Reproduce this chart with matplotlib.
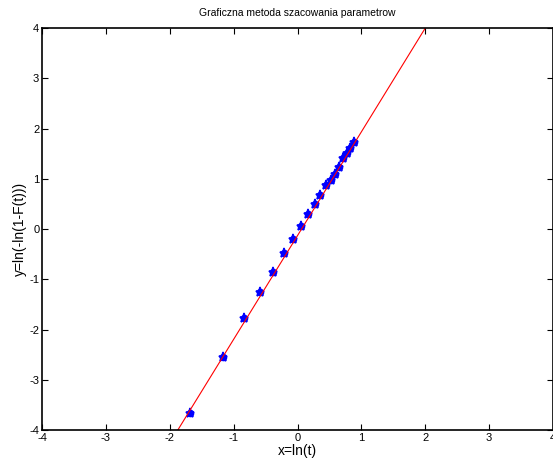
import numpy as np
import matplotlib
matplotlib.use("Agg")
import matplotlib.pyplot as plt

plt.rcParams["font.family"] = ["Liberation Sans", "DejaVu Sans"]
plt.rcParams["axes.unicode_minus"] = False

# points
x_ln_t = [-1.677, -1.170, -0.832, -0.586, -0.377, -0.210, -0.069, 0.057, 0.166,
          0.270, 0.358, 0.443, 0.521, 0.589, 0.656, 0.719, 0.772, 0.828, 0.886]
y_val = [-3.656, -2.541, -1.771, -1.254, -0.856, -0.481, -0.193, 0.066, 0.292,
         0.491, 0.670, 0.869, 0.975, 1.094, 1.234, 1.419, 1.506, 1.612, 1.737]

# fitted line
slope = 2.065
intercept = -0.128
line_x = [-4, 4]
ticks = [-4, -3, -2, -1, 0, 1, 2, 3, 4]

fig = plt.figure(figsize=(5.53, 4.62), dpi=100)
ax = fig.add_axes([0.076, 0.069, 0.924, 0.870])

ax.plot(x_ln_t, y_val, "o", color="blue", markersize=5.5, markeredgewidth=0)
ax.plot(x_ln_t, y_val, "*", color="blue", markersize=6.5, markeredgewidth=1.2)
ax.plot(line_x, [slope * v + intercept for v in line_x], color="red", linewidth=0.8)

ax.set_xlim(-4, 4)
ax.set_ylim(-4, 4)
ax.set_xticks(ticks)
ax.set_yticks(ticks)
ax.tick_params(direction="in", top=True, right=True, labelsize=8, length=4, width=0.8, pad=2)
for s in ax.spines.values():
    s.set_linewidth(1.2)

ax.set_xlabel("x=ln(t)", fontsize=10, labelpad=1)
ax.set_ylabel("y=ln(-ln(1-F(t)))", fontsize=10, labelpad=2)
ax.set_title("Graficzna metoda szacowania parametrow", fontsize=7.5, pad=9)

fig.savefig("out.png", dpi=100)
